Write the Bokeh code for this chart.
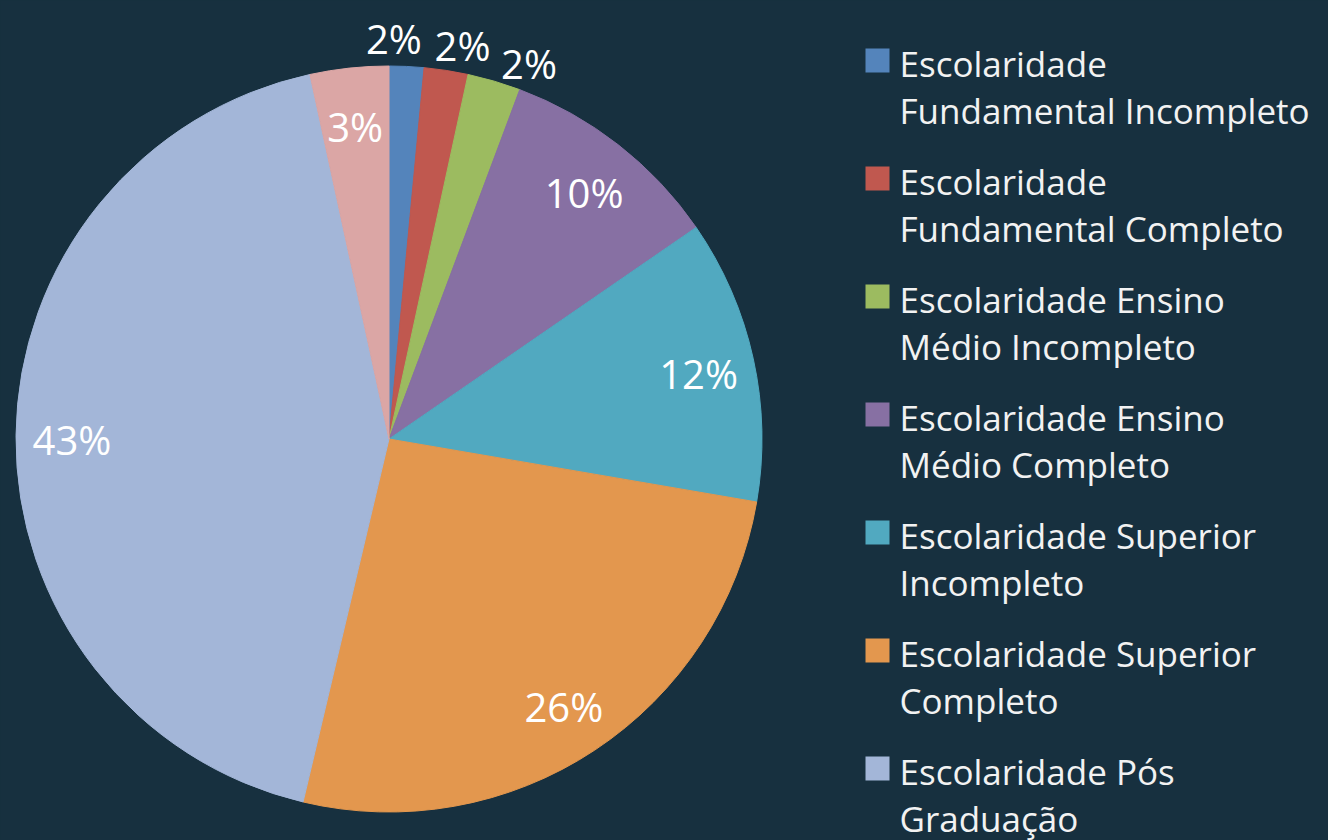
import math
from bokeh.plotting import figure
from bokeh.models import Range1d, ColumnDataSource, GlobalInlineStyleSheet
from bokeh.core.properties import value
from bokeh.embed import file_html
from bokeh.resources import INLINE

# ---- data ----
categories = [
    "Escolaridade\nFundamental Incompleto",
    "Escolaridade\nFundamental Completo",
    "Escolaridade Ensino\nMédio Incompleto",
    "Escolaridade Ensino\nMédio Completo",
    "Escolaridade Superior\nIncompleto",
    "Escolaridade Superior\nCompleto",
    "Escolaridade Pós\nGraduação",
    "",
]
shares = [1.5, 1.9, 2.3, 9.7, 12.3, 26.0, 42.9, 3.4]
pct_labels = ["2%", "2%", "2%", "10%", "12%", "26%", "43%", "3%"]
colors = ["#5484bb", "#c0584f", "#9cbb60", "#8770a3", "#51a9c0",
          "#e3974e", "#a3b6d8", "#dba6a5"]
in_legend = [True, True, True, True, True, True, True, False]
outside_label = [True, True, True, False, False, False, False, False]

BG = "#17303f"
FONT = "Open Sans"
W, H = 1328, 840

p = figure(width=W, height=H, x_range=Range1d(0, W), y_range=Range1d(0, H),
           output_backend="svg", toolbar_location=None, min_border=0)
p.axis.visible = False
p.grid.visible = False
p.outline_line_color = None
p.background_fill_color = BG
p.border_fill_color = BG
p.stylesheets = [GlobalInlineStyleSheet(
    css=f"html,body{{background:{BG};margin:0;padding:0;overflow:hidden;}}")]

# ---- pie ----
cx, cy, R = 388.5, 401.5, 373
total = sum(shares)
starts, ends, mids = [], [], []
cum = 0.0
for v in shares:
    a0 = math.pi / 2 - 2 * math.pi * cum / total
    cum += v
    a1 = math.pi / 2 - 2 * math.pi * cum / total
    starts.append(a0)
    ends.append(a1)
    mids.append((a0 + a1) / 2)

src = ColumnDataSource(dict(start=starts, end=ends, color=colors))
p.wedge(x=cx, y=cy, radius=R, start_angle="start", end_angle="end",
        direction="clock", fill_color="color", line_color="color",
        line_width=1, source=src)

# label angles: outside labels spread apart so they do not collide
lab_ang = list(mids)
out_idx = [i for i, f in enumerate(outside_label) if f]
sep = math.radians(9.8)
if out_idx:
    mean = sum(mids[i] for i in out_idx) / len(out_idx) - math.radians(1.2)
    n = len(out_idx)
    for k, i in enumerate(out_idx):
        lab_ang[i] = mean - (k - (n - 1) / 2) * sep

lx, ly = [], []
for i, m in enumerate(lab_ang):
    rr = R * (1.082 if outside_label[i] else 0.85)
    lx.append(cx + rr * math.cos(m))
    ly.append(cy + rr * math.sin(m) - 3)
p.text(x=lx, y=ly, text=pct_labels, text_color="white",
       text_font=value(FONT), text_font_size="40px",
       text_align="center", text_baseline="middle")

# ---- legend (manual, two-line labels) ----
leg_idx = [i for i, f in enumerate(in_legend) if f]
sq_x, tx = 877, 899
sq0, base0, step, lh = 780, 777, 118, 47
sqx, sqy, sqc, l1y, l1t, l2y, l2t = [], [], [], [], [], [], []
for k, i in enumerate(leg_idx):
    b = base0 - step * k
    first, second = categories[i].split("\n")
    sqx.append(sq_x); sqy.append(sq0 - step * k); sqc.append(colors[i])
    l1y.append(b); l1t.append(first)
    l2y.append(b - lh); l2t.append(second)
p.rect(x=sqx, y=sqy, width=24, height=24, fill_color=sqc, line_color=None)
for ys, ts in ((l1y, l1t), (l2y, l2t)):
    p.text(x=[tx] * len(ts), y=ys, text=ts, text_color="#f2f2f2",
           text_font=value(FONT), text_font_size="35px",
           text_align="left", text_baseline="alphabetic")

open("out.html", "w").write(file_html(p, INLINE))
